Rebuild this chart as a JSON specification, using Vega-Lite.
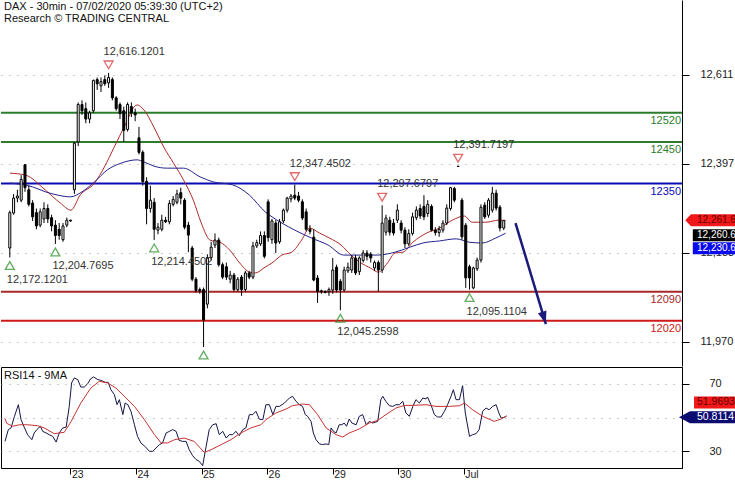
{
"$schema": "https://vega.github.io/schema/vega-lite/v6.json",
"padding": 0,
"spacing": 0,
"background": "white",
"config": {"view": {"stroke": null}, "font": "Liberation Sans", "axis": {"labelFont": "Liberation Sans", "labelFontSize": 11, "labelColor": "#222"}},
"datasets": {
"candles": [
{"i":0,"o":12195,"h":12285,"l":12172.12,"c":12280},{"i":1,"o":12279,"h":12325,"l":12275,"c":12315},{"i":2,"o":12315,"h":12335,"l":12305,"c":12320},{"i":3,"o":12310,"h":12370,"l":12305,"c":12360},{"i":4,"o":12395,"h":12397,"l":12330,"c":12340},{"i":5,"o":12335,"h":12345,"l":12295,"c":12300},{"i":6,"o":12303,"h":12310,"l":12260,"c":12270},{"i":7,"o":12280,"h":12290,"l":12240,"c":12248},{"i":8,"o":12250,"h":12290,"l":12245,"c":12282},{"i":9,"o":12265,"h":12305,"l":12255,"c":12290},{"i":10,"o":12290,"h":12300,"l":12255,"c":12265},{"i":11,"o":12268,"h":12275,"l":12235,"c":12248},{"i":12,"o":12250,"h":12262,"l":12204.77,"c":12225},{"i":13,"o":12240,"h":12255,"l":12215,"c":12225},{"i":14,"o":12215,"h":12255,"l":12210,"c":12248},{"i":15,"o":12250,"h":12268,"l":12245,"c":12262},{"i":16,"o":12260,"h":12263,"l":12258,"c":12262},
{"i":17,"o":12335,"h":12450,"l":12325,"c":12447},{"i":18,"o":12450,"h":12545,"l":12440,"c":12540},{"i":19,"o":12540,"h":12550,"l":12515,"c":12525},{"i":20,"o":12530,"h":12545,"l":12495,"c":12505},{"i":21,"o":12505,"h":12525,"l":12495,"c":12520},{"i":22,"o":12525,"h":12600,"l":12520,"c":12598},{"i":23,"o":12600,"h":12605,"l":12575,"c":12590},{"i":24,"o":12585,"h":12605,"l":12570,"c":12595},{"i":25,"o":12600,"h":12610,"l":12585,"c":12590},{"i":26,"o":12592,"h":12616.12,"l":12580,"c":12605},{"i":27,"o":12600,"h":12605,"l":12550,"c":12556},{"i":28,"o":12556,"h":12560,"l":12525,"c":12530},{"i":29,"o":12540,"h":12545,"l":12505,"c":12518},{"i":30,"o":12525,"h":12535,"l":12450,"c":12478},{"i":31,"o":12480,"h":12545,"l":12475,"c":12540},{"i":32,"o":12535,"h":12545,"l":12510,"c":12520},{"i":33,"o":12520,"h":12530,"l":12500,"c":12515},
{"i":34,"o":12460,"h":12486,"l":12420,"c":12425},{"i":35,"o":12425,"h":12430,"l":12345,"c":12355},{"i":36,"o":12355,"h":12365,"l":12252,"c":12290},{"i":37,"o":12290,"h":12345,"l":12280,"c":12310},{"i":38,"o":12305,"h":12315,"l":12214.45,"c":12240},{"i":39,"o":12238,"h":12255,"l":12228,"c":12245},{"i":40,"o":12240,"h":12275,"l":12235,"c":12262},{"i":41,"o":12262,"h":12270,"l":12255,"c":12258},{"i":42,"o":12258,"h":12310,"l":12252,"c":12302},{"i":43,"o":12300,"h":12320,"l":12295,"c":12312},{"i":44,"o":12305,"h":12335,"l":12300,"c":12325},{"i":45,"o":12328,"h":12340,"l":12300,"c":12315},{"i":46,"o":12310,"h":12315,"l":12240,"c":12245},{"i":47,"o":12250,"h":12258,"l":12185,"c":12226},{"i":48,"o":12195,"h":12200,"l":12115,"c":12120},{"i":49,"o":12120,"h":12125,"l":12088,"c":12093},{"i":50,"o":12095,"h":12100,"l":12085,"c":12092},
{"i":51,"o":12095,"h":12100,"l":11957,"c":12022},{"i":52,"o":12060,"h":12180,"l":12050,"c":12172},{"i":53,"o":12172,"h":12210,"l":12165,"c":12197},{"i":54,"o":12202,"h":12230,"l":12195,"c":12214},{"i":55,"o":12214,"h":12220,"l":12150,"c":12155},{"i":56,"o":12155,"h":12160,"l":12120,"c":12125},{"i":57,"o":12150,"h":12160,"l":12118,"c":12125},{"i":58,"o":12120,"h":12140,"l":12110,"c":12130},{"i":59,"o":12130,"h":12135,"l":12090,"c":12095},{"i":60,"o":12095,"h":12125,"l":12090,"c":12120},{"i":61,"o":12125,"h":12130,"l":12080,"c":12095},{"i":62,"o":12095,"h":12140,"l":12090,"c":12135},{"i":63,"o":12135,"h":12140,"l":12120,"c":12125},{"i":64,"o":12125,"h":12210,"l":12120,"c":12200},{"i":65,"o":12200,"h":12215,"l":12195,"c":12208},{"i":66,"o":12205,"h":12235,"l":12200,"c":12225},{"i":67,"o":12225,"h":12235,"l":12170,"c":12175},
{"i":68,"o":12306,"h":12312,"l":12210,"c":12220},{"i":69,"o":12215,"h":12265,"l":12205,"c":12260},{"i":70,"o":12255,"h":12262,"l":12183,"c":12207},{"i":71,"o":12210,"h":12265,"l":12205,"c":12258},{"i":72,"o":12260,"h":12290,"l":12255,"c":12286},{"i":73,"o":12286,"h":12318,"l":12280,"c":12315},{"i":74,"o":12313,"h":12325,"l":12305,"c":12320},{"i":75,"o":12322,"h":12347.45,"l":12310,"c":12315},{"i":76,"o":12320,"h":12330,"l":12305,"c":12310},{"i":77,"o":12306,"h":12312,"l":12262,"c":12267},{"i":78,"o":12282,"h":12290,"l":12235,"c":12240},{"i":79,"o":12240,"h":12250,"l":12228,"c":12235},{"i":80,"o":12221,"h":12240,"l":12115,"c":12118},{"i":81,"o":12123,"h":12130,"l":12063,"c":12090},{"i":82,"o":12092,"h":12095,"l":12085,"c":12090},{"i":83,"o":12090,"h":12093,"l":12086,"c":12088},{"i":84,"o":12090,"h":12100,"l":12080,"c":12095},
{"i":85,"o":12094,"h":12171,"l":12085,"c":12142},{"i":86,"o":12149,"h":12155,"l":12088,"c":12094},{"i":87,"o":12115,"h":12120,"l":12045.26,"c":12094},{"i":88,"o":12094,"h":12150,"l":12090,"c":12142},{"i":89,"o":12140,"h":12160,"l":12135,"c":12149},{"i":90,"o":12142,"h":12178,"l":12135,"c":12171},{"i":91,"o":12171,"h":12178,"l":12130,"c":12135},{"i":92,"o":12138,"h":12175,"l":12130,"c":12171},{"i":93,"o":12165,"h":12190,"l":12160,"c":12183},{"i":94,"o":12183,"h":12190,"l":12165,"c":12175},{"i":95,"o":12180,"h":12185,"l":12160,"c":12171},{"i":96,"o":12147,"h":12165,"l":12140,"c":12160},{"i":97,"o":12160,"h":12165,"l":12090,"c":12142},{"i":98,"o":12142,"h":12297.68,"l":12135,"c":12255},{"i":99,"o":12233,"h":12275,"l":12225,"c":12267},{"i":100,"o":12262,"h":12270,"l":12225,"c":12233},{"i":101,"o":12255,"h":12265,"l":12225,"c":12231},
{"i":102,"o":12262,"h":12300,"l":12255,"c":12286},{"i":103,"o":12255,"h":12262,"l":12230,"c":12238},{"i":104,"o":12238,"h":12245,"l":12195,"c":12205},{"i":105,"o":12205,"h":12240,"l":12200,"c":12230},{"i":106,"o":12230,"h":12280,"l":12225,"c":12270},{"i":107,"o":12268,"h":12295,"l":12262,"c":12286},{"i":108,"o":12290,"h":12300,"l":12265,"c":12272},{"i":109,"o":12295,"h":12322,"l":12262,"c":12270},{"i":110,"o":12278,"h":12310,"l":12270,"c":12300},{"i":111,"o":12295,"h":12300,"l":12235,"c":12238},{"i":112,"o":12238,"h":12245,"l":12225,"c":12232},{"i":113,"o":12232,"h":12248,"l":12222,"c":12240},{"i":114,"o":12238,"h":12262,"l":12232,"c":12255},{"i":115,"o":12255,"h":12300,"l":12250,"c":12291},{"i":116,"o":12290,"h":12342,"l":12285,"c":12340},{"i":117,"o":12338,"h":12342,"l":12305,"c":12310},{"i":118,"o":12391,"h":12391.72,"l":12390,"c":12391.72},
{"i":119,"o":12310,"h":12315,"l":12215,"c":12222},{"i":120,"o":12250,"h":12255,"l":12099,"c":12123},{"i":121,"o":12150,"h":12155,"l":12095.11,"c":12123},{"i":122,"o":12099,"h":12150,"l":12096,"c":12147},{"i":123,"o":12145,"h":12172,"l":12140,"c":12166},{"i":124,"o":12166,"h":12300,"l":12160,"c":12293},{"i":125,"o":12298,"h":12305,"l":12265,"c":12270},{"i":126,"o":12274,"h":12315,"l":12268,"c":12310},{"i":127,"o":12286,"h":12342,"l":12280,"c":12327},{"i":128,"o":12327,"h":12335,"l":12285,"c":12291},{"i":129,"o":12293,"h":12298,"l":12235,"c":12243},{"i":130,"o":12243,"h":12262,"l":12238,"c":12260.64}
],
"ma": [
{"s":"ma1","i":0.04,"p":12375},{"s":"ma1","i":4.2,"p":12370},{"s":"ma1","i":9.4,"p":12334},{"s":"ma1","i":13.3,"p":12303},{"s":"ma1","i":16.1,"p":12286},{"s":"ma1","i":18.5,"p":12322},{"s":"ma1","i":22.3,"p":12351},{"s":"ma1","i":24.9,"p":12390},{"s":"ma1","i":27.5,"p":12438},{"s":"ma1","i":30.1,"p":12486},{"s":"ma1","i":33.5,"p":12539},{"s":"ma1","i":35.3,"p":12527},{"s":"ma1","i":37.9,"p":12486},{"s":"ma1","i":40.5,"p":12438},{"s":"ma1","i":43.1,"p":12399},{"s":"ma1","i":45.7,"p":12359},{"s":"ma1","i":48.3,"p":12310},{"s":"ma1","i":50.4,"p":12255},{"s":"ma1","i":52.7,"p":12214},{"s":"ma1","i":55.3,"p":12209},{"s":"ma1","i":57.9,"p":12190},{"s":"ma1","i":60.5,"p":12159},{"s":"ma1","i":63.1,"p":12137},{"s":"ma1","i":64.6,"p":12135},{"s":"ma1","i":67.2,"p":12149},{"s":"ma1","i":69.0,"p":12159},{"s":"ma1","i":71.6,"p":12178},{"s":"ma1","i":74.2,"p":12185},{"s":"ma1","i":76.8,"p":12214},{"s":"ma1","i":78.9,"p":12243},{"s":"ma1","i":81.5,"p":12231},{"s":"ma1","i":84.1,"p":12219},{"s":"ma1","i":87.2,"p":12202},{"s":"ma1","i":89.8,"p":12178},{"s":"ma1","i":92.4,"p":12159},{"s":"ma1","i":94.9,"p":12147},{"s":"ma1","i":97.0,"p":12137},{"s":"ma1","i":99.4,"p":12159},{"s":"ma1","i":101.4,"p":12183},{"s":"ma1","i":103.5,"p":12185},{"s":"ma1","i":106.1,"p":12209},{"s":"ma1","i":109.7,"p":12231},{"s":"ma1","i":113.1,"p":12243},{"s":"ma1","i":116.5,"p":12262},{"s":"ma1","i":119.6,"p":12272},{"s":"ma1","i":121.7,"p":12257},{"s":"ma1","i":125.3,"p":12257},{"s":"ma1","i":128.7,"p":12262},{"s":"ma1","i":130.5,"p":12261.64},
{"s":"ma2","i":0.04,"p":12351},{"s":"ma2","i":6.0,"p":12342},{"s":"ma2","i":9.4,"p":12330},{"s":"ma2","i":12.7,"p":12322},{"s":"ma2","i":15.9,"p":12318},{"s":"ma2","i":19.0,"p":12330},{"s":"ma2","i":22.3,"p":12354},{"s":"ma2","i":25.7,"p":12383},{"s":"ma2","i":29.3,"p":12399},{"s":"ma2","i":33.5,"p":12407},{"s":"ma2","i":35.3,"p":12402},{"s":"ma2","i":37.9,"p":12392},{"s":"ma2","i":41.3,"p":12387},{"s":"ma2","i":45.7,"p":12387},{"s":"ma2","i":50.1,"p":12366},{"s":"ma2","i":53.5,"p":12354},{"s":"ma2","i":58.6,"p":12347},{"s":"ma2","i":63.1,"p":12322},{"s":"ma2","i":67.2,"p":12282},{"s":"ma2","i":69.0,"p":12270},{"s":"ma2","i":71.6,"p":12255},{"s":"ma2","i":75.0,"p":12238},{"s":"ma2","i":79.4,"p":12219},{"s":"ma2","i":83.8,"p":12202},{"s":"ma2","i":87.9,"p":12178},{"s":"ma2","i":92.4,"p":12178},{"s":"ma2","i":96.8,"p":12178},{"s":"ma2","i":101.4,"p":12185},{"s":"ma2","i":105.3,"p":12197},{"s":"ma2","i":108.7,"p":12207},{"s":"ma2","i":113.1,"p":12212},{"s":"ma2","i":117.5,"p":12217},{"s":"ma2","i":120.9,"p":12209},{"s":"ma2","i":124.3,"p":12207},{"s":"ma2","i":127.9,"p":12219},{"s":"ma2","i":130.5,"p":12230.64}
],
"levels": [{"level":12520},{"level":12450},{"level":12350},{"level":12090},{"level":12020}],
"pivots": [
{"t":"high","i":26,"p":12616.1201},{"t":"high","i":75,"p":12347.4502},{"t":"high","i":98,"p":12297.6797},{"t":"high","i":118,"p":12391.7197},
{"t":"low","i":0,"p":12172.1201},{"t":"low","i":12,"p":12204.7695},{"t":"low","i":38,"p":12214.4502},{"t":"low","i":51,"p":11957.0},{"t":"low","i":87,"p":12045.2598},{"t":"low","i":121,"p":12095.1104}
],
"arrow": [{"k":"start","i":133.1,"p":12255},{"k":"end","i":141.1,"p":12012}],
"tags": [{"tag":"ma1","v":12261.6406},{"tag":"close","v":12260.64},{"tag":"ma2","v":12230.6406}],
"rsi": [
{"s":"rsi","i":0.04,"v":35.8},{"s":"rsi","i":0.9,"v":42.8},{"s":"rsi","i":1.6,"v":43.8},{"s":"rsi","i":2.5,"v":50.7},{"s":"rsi","i":3.5,"v":57.6},{"s":"rsi","i":4.2,"v":48.7},{"s":"rsi","i":5.1,"v":43.8},{"s":"rsi","i":5.9,"v":39.8},{"s":"rsi","i":7.0,"v":36.8},{"s":"rsi","i":7.6,"v":40.8},{"s":"rsi","i":8.3,"v":42.8},{"s":"rsi","i":9.2,"v":44.8},{"s":"rsi","i":9.8,"v":41.8},{"s":"rsi","i":10.7,"v":40.8},{"s":"rsi","i":11.5,"v":39.8},{"s":"rsi","i":12.4,"v":38.8},{"s":"rsi","i":13.3,"v":35.4},{"s":"rsi","i":14.1,"v":40.8},{"s":"rsi","i":15.0,"v":43.8},{"s":"rsi","i":15.9,"v":44.3},{"s":"rsi","i":16.7,"v":56.6},{"s":"rsi","i":17.3,"v":70.5},{"s":"rsi","i":18.0,"v":73.5},{"s":"rsi","i":18.9,"v":72.5},{"s":"rsi","i":19.7,"v":68.1},{"s":"rsi","i":20.6,"v":68.1},{"s":"rsi","i":21.5,"v":70.1},{"s":"rsi","i":22.2,"v":72.9},{"s":"rsi","i":23.0,"v":74.1},{"s":"rsi","i":24.1,"v":72.5},{"s":"rsi","i":24.9,"v":72.1},{"s":"rsi","i":26.0,"v":70.9},{"s":"rsi","i":26.8,"v":70.9},{"s":"rsi","i":27.5,"v":66.5},{"s":"rsi","i":28.4,"v":63.6},{"s":"rsi","i":29.1,"v":57.6},{"s":"rsi","i":29.7,"v":60.6},{"s":"rsi","i":30.6,"v":51.7},{"s":"rsi","i":31.2,"v":58.6},{"s":"rsi","i":31.9,"v":57.6},{"s":"rsi","i":32.7,"v":53.7},{"s":"rsi","i":33.6,"v":45.7},{"s":"rsi","i":34.4,"v":38.8},{"s":"rsi","i":35.3,"v":34.8},{"s":"rsi","i":36.3,"v":32.9},{"s":"rsi","i":37.5,"v":29.9},{"s":"rsi","i":38.3,"v":29.9},{"s":"rsi","i":39.2,"v":31.9},{"s":"rsi","i":40.1,"v":33.9},{"s":"rsi","i":40.9,"v":34.9},{"s":"rsi","i":41.8,"v":40.8},{"s":"rsi","i":42.7,"v":41.8},{"s":"rsi","i":43.5,"v":42.8},{"s":"rsi","i":44.4,"v":41.8},{"s":"rsi","i":45.2,"v":36.4},{"s":"rsi","i":46.1,"v":35.8},{"s":"rsi","i":47.0,"v":35.8},{"s":"rsi","i":47.8,"v":30.9},{"s":"rsi","i":48.7,"v":27.3},{"s":"rsi","i":49.6,"v":25.0},{"s":"rsi","i":50.4,"v":24.0},{"s":"rsi","i":51.3,"v":21.4},{"s":"rsi","i":52.2,"v":32.9},{"s":"rsi","i":53.0,"v":42.8},{"s":"rsi","i":53.9,"v":45.7},{"s":"rsi","i":54.8,"v":46.3},{"s":"rsi","i":55.6,"v":39.8},{"s":"rsi","i":56.5,"v":41.8},{"s":"rsi","i":57.4,"v":37.8},{"s":"rsi","i":58.2,"v":39.8},{"s":"rsi","i":59.1,"v":39.8},{"s":"rsi","i":59.9,"v":41.8},{"s":"rsi","i":60.8,"v":39.2},{"s":"rsi","i":61.7,"v":42.8},{"s":"rsi","i":62.5,"v":43.8},{"s":"rsi","i":63.4,"v":51.7},{"s":"rsi","i":64.3,"v":51.7},{"s":"rsi","i":65.1,"v":53.7},{"s":"rsi","i":66.0,"v":49.0},{"s":"rsi","i":66.9,"v":48.7},{"s":"rsi","i":67.7,"v":57.6},{"s":"rsi","i":68.6,"v":57.6},{"s":"rsi","i":69.5,"v":51.7},{"s":"rsi","i":70.3,"v":56.6},{"s":"rsi","i":71.2,"v":56.6},{"s":"rsi","i":72.5,"v":58.6},{"s":"rsi","i":73.8,"v":61.6},{"s":"rsi","i":74.6,"v":62.6},{"s":"rsi","i":75.5,"v":59.6},{"s":"rsi","i":76.4,"v":57.6},{"s":"rsi","i":77.2,"v":56.6},{"s":"rsi","i":77.9,"v":51.7},{"s":"rsi","i":78.5,"v":50.7},{"s":"rsi","i":79.4,"v":47.7},{"s":"rsi","i":80.0,"v":40.8},{"s":"rsi","i":80.7,"v":36.8},{"s":"rsi","i":81.6,"v":34.3},{"s":"rsi","i":82.4,"v":33.9},{"s":"rsi","i":83.3,"v":34.3},{"s":"rsi","i":84.0,"v":33.9},{"s":"rsi","i":84.6,"v":43.8},{"s":"rsi","i":85.2,"v":41.8},{"s":"rsi","i":85.9,"v":40.8},{"s":"rsi","i":86.7,"v":45.7},{"s":"rsi","i":87.4,"v":45.7},{"s":"rsi","i":88.0,"v":46.7},{"s":"rsi","i":88.6,"v":44.8},{"s":"rsi","i":89.3,"v":49.1},{"s":"rsi","i":90.0,"v":46.7},{"s":"rsi","i":91.1,"v":45.7},{"s":"rsi","i":91.9,"v":50.7},{"s":"rsi","i":92.8,"v":51.7},{"s":"rsi","i":93.7,"v":45.7},{"s":"rsi","i":94.5,"v":47.7},{"s":"rsi","i":95.4,"v":46.7},{"s":"rsi","i":96.7,"v":47.7},{"s":"rsi","i":97.5,"v":60.6},{"s":"rsi","i":98.0,"v":62.6},{"s":"rsi","i":98.8,"v":59.6},{"s":"rsi","i":99.7,"v":57.0},{"s":"rsi","i":100.6,"v":56.6},{"s":"rsi","i":101.4,"v":57.6},{"s":"rsi","i":102.3,"v":57.6},{"s":"rsi","i":103.2,"v":59.6},{"s":"rsi","i":104.0,"v":52.7},{"s":"rsi","i":104.9,"v":50.7},{"s":"rsi","i":105.8,"v":56.6},{"s":"rsi","i":106.6,"v":60.6},{"s":"rsi","i":107.5,"v":58.6},{"s":"rsi","i":108.4,"v":61.6},{"s":"rsi","i":109.2,"v":61.0},{"s":"rsi","i":109.6,"v":62.2},{"s":"rsi","i":110.5,"v":57.6},{"s":"rsi","i":111.4,"v":51.7},{"s":"rsi","i":112.2,"v":50.3},{"s":"rsi","i":113.1,"v":50.3},{"s":"rsi","i":114.0,"v":53.7},{"s":"rsi","i":114.8,"v":57.6},{"s":"rsi","i":115.7,"v":62.6},{"s":"rsi","i":116.3,"v":66.5},{"s":"rsi","i":117.0,"v":60.6},{"s":"rsi","i":117.9,"v":60.6},{"s":"rsi","i":118.7,"v":68.9},{"s":"rsi","i":119.4,"v":52.7},{"s":"rsi","i":120.5,"v":38.8},{"s":"rsi","i":121.3,"v":39.8},{"s":"rsi","i":122.2,"v":40.4},{"s":"rsi","i":123.0,"v":42.8},{"s":"rsi","i":123.9,"v":53.7},{"s":"rsi","i":124.8,"v":55.6},{"s":"rsi","i":125.6,"v":54.6},{"s":"rsi","i":126.5,"v":56.6},{"s":"rsi","i":127.4,"v":57.6},{"s":"rsi","i":128.1,"v":52.7},{"s":"rsi","i":128.7,"v":49.7},{"s":"rsi","i":129.5,"v":50.1},{"s":"rsi","i":130.1,"v":50.81},
{"s":"ma","i":0.0,"v":49.5},{"s":"ma","i":0.5,"v":46.5},{"s":"ma","i":2.0,"v":44.8},{"s":"ma","i":3.8,"v":45.7},{"s":"ma","i":5.9,"v":45.7},{"s":"ma","i":8.5,"v":45.1},{"s":"ma","i":10.2,"v":43.8},{"s":"ma","i":12.8,"v":40.4},{"s":"ma","i":15.4,"v":41.2},{"s":"ma","i":17.2,"v":47.7},{"s":"ma","i":19.7,"v":58.6},{"s":"ma","i":22.3,"v":67.5},{"s":"ma","i":24.5,"v":71.5},{"s":"ma","i":26.7,"v":70.5},{"s":"ma","i":28.8,"v":67.5},{"s":"ma","i":31.0,"v":62.6},{"s":"ma","i":33.6,"v":56.6},{"s":"ma","i":36.2,"v":48.7},{"s":"ma","i":38.8,"v":39.8},{"s":"ma","i":40.5,"v":34.9},{"s":"ma","i":42.2,"v":34.9},{"s":"ma","i":44.0,"v":36.8},{"s":"ma","i":46.5,"v":37.8},{"s":"ma","i":49.1,"v":35.8},{"s":"ma","i":50.9,"v":31.3},{"s":"ma","i":51.7,"v":29.3},{"s":"ma","i":53.5,"v":30.9},{"s":"ma","i":56.1,"v":33.9},{"s":"ma","i":58.6,"v":36.8},{"s":"ma","i":61.2,"v":40.8},{"s":"ma","i":63.8,"v":43.8},{"s":"ma","i":66.4,"v":45.7},{"s":"ma","i":67.7,"v":48.7},{"s":"ma","i":70.3,"v":52.7},{"s":"ma","i":72.9,"v":55.0},{"s":"ma","i":74.6,"v":57.0},{"s":"ma","i":77.2,"v":58.0},{"s":"ma","i":79.0,"v":57.6},{"s":"ma","i":81.1,"v":51.7},{"s":"ma","i":83.3,"v":43.8},{"s":"ma","i":85.9,"v":39.8},{"s":"ma","i":87.6,"v":38.4},{"s":"ma","i":89.3,"v":40.8},{"s":"ma","i":91.9,"v":43.2},{"s":"ma","i":94.5,"v":46.7},{"s":"ma","i":96.7,"v":48.3},{"s":"ma","i":98.8,"v":51.7},{"s":"ma","i":101.4,"v":55.6},{"s":"ma","i":103.6,"v":57.2},{"s":"ma","i":105.8,"v":57.2},{"s":"ma","i":109.2,"v":57.6},{"s":"ma","i":111.8,"v":56.6},{"s":"ma","i":115.3,"v":56.6},{"s":"ma","i":117.9,"v":57.0},{"s":"ma","i":119.2,"v":58.6},{"s":"ma","i":121.3,"v":54.6},{"s":"ma","i":123.9,"v":50.7},{"s":"ma","i":126.9,"v":47.7},{"s":"ma","i":128.7,"v":49.1},{"s":"ma","i":130.1,"v":51.0}
],
"rsitags": [{"tag":"ma","v":51.9693},{"tag":"rsi","v":50.8114}]
},
"vconcat": [
{
"width": 681, "height": 366,
"title": {"text": ["DAX - 30min - 07/02/2020 05:39:30 (UTC+2)", "Research © TRADING CENTRAL"], "anchor": "start", "frame": "group", "offset": -24, "dx": 3, "fontSize": 11, "fontWeight": "normal", "font": "Liberation Sans", "color": "#111", "lineHeight": 12},
"resolve": {"scale": {"color": "independent"}},
"layer": [
{"data": {"name": "levels"}, "mark": {"type": "rule", "strokeWidth": 2},
 "encoding": {
  "y": {"field": "level", "type": "quantitative", "title": null, "scale": {"domain": [11911.3, 12791.3], "nice": false, "zero": false},
        "axis": {"orient": "right", "values": [11970, 12183, 12397, 12611], "format": ",d", "grid": true, "gridDash": [1, 7], "gridColor": "#999", "tickSize": 7, "labelPadding": 11, "domainColor": "#000", "tickColor": "#000", "labelFontSize": 11, "labelColor": "#222"}},
  "color": {"field": "level", "type": "nominal", "scale": {"domain": [12520, 12450, 12350, 12090, 12020], "range": ["#2b7d2b", "#2b7d2b", "#0a0ab4", "#a82828", "#d01818"]}, "legend": null}}},
{"data": {"name": "levels"}, "mark": {"type": "text", "align": "right", "baseline": "middle", "dx": -1, "dy": 8, "fontSize": 11, "font": "Liberation Sans"},
 "encoding": {
  "x": {"value": "width"},
  "y": {"field": "level", "type": "quantitative", "title": null, "scale": {"domain": [11911.3, 12791.3], "nice": false, "zero": false}},
  "text": {"field": "level", "type": "quantitative", "format": "d"},
  "color": {"field": "level", "type": "nominal", "scale": {"domain": [12520, 12450, 12350, 12090, 12020], "range": ["#2b7d2b", "#2b7d2b", "#0a0ab4", "#a82828", "#d01818"]}, "legend": null}}},
{"data": {"name": "ma"}, "mark": {"type": "line", "strokeWidth": 1, "interpolate": "monotone"},
 "encoding": {
  "x": {"field": "i", "type": "quantitative", "axis": null, "scale": {"domain": [-1, 175.6], "nice": false, "zero": false}},
  "y": {"field": "p", "type": "quantitative", "title": null, "scale": {"domain": [11911.3, 12791.3], "nice": false, "zero": false}},
  "color": {"field": "s", "type": "nominal", "scale": {"domain": ["ma1", "ma2"], "range": ["#b02a2a", "#23238f"]}, "legend": null}}},
{"data": {"name": "candles"}, "mark": {"type": "rule", "color": "#000", "strokeWidth": 1},
 "encoding": {
  "x": {"field": "i", "type": "quantitative", "axis": null, "scale": {"domain": [-1, 175.6], "nice": false, "zero": false}},
  "y": {"field": "l", "type": "quantitative", "title": null, "scale": {"domain": [11911.3, 12791.3], "nice": false, "zero": false}},
  "y2": {"field": "h"}}},
{"data": {"name": "candles"}, "mark": {"type": "bar", "width": 2, "stroke": "#000", "strokeWidth": 1},
 "encoding": {
  "x": {"field": "i", "type": "quantitative", "axis": null, "scale": {"domain": [-1, 175.6], "nice": false, "zero": false}},
  "y": {"field": "o", "type": "quantitative", "title": null, "scale": {"domain": [11911.3, 12791.3], "nice": false, "zero": false}},
  "y2": {"field": "c"},
  "fill": {"condition": {"test": "datum.c >= datum.o", "value": "#ffffff"}, "value": "#000000"}}},
{"data": {"name": "pivots"}, "transform": [{"filter": "datum.t == 'high'"}],
 "mark": {"type": "point", "shape": "triangle-down", "filled": false, "size": 80, "strokeWidth": 1.3, "color": "#d42a2a", "yOffset": -8},
 "encoding": {
  "x": {"field": "i", "type": "quantitative", "axis": null, "scale": {"domain": [-1, 175.6], "nice": false, "zero": false}},
  "y": {"field": "p", "type": "quantitative", "title": null, "scale": {"domain": [11911.3, 12791.3], "nice": false, "zero": false}}}},
{"data": {"name": "pivots"}, "transform": [{"filter": "datum.t == 'low'"}],
 "mark": {"type": "point", "shape": "triangle-up", "filled": false, "size": 80, "strokeWidth": 1.3, "color": "#1e8c1e", "yOffset": 8},
 "encoding": {
  "x": {"field": "i", "type": "quantitative", "axis": null, "scale": {"domain": [-1, 175.6], "nice": false, "zero": false}},
  "y": {"field": "p", "type": "quantitative", "title": null, "scale": {"domain": [11911.3, 12791.3], "nice": false, "zero": false}}}},
{"data": {"name": "pivots"}, "transform": [{"filter": "datum.t == 'high'"}],
 "mark": {"type": "text", "align": "left", "baseline": "middle", "dx": -5, "yOffset": -21, "fontSize": 11, "font": "Liberation Sans", "color": "#333"},
 "encoding": {
  "x": {"field": "i", "type": "quantitative", "axis": null, "scale": {"domain": [-1, 175.6], "nice": false, "zero": false}},
  "y": {"field": "p", "type": "quantitative", "title": null, "scale": {"domain": [11911.3, 12791.3], "nice": false, "zero": false}},
  "text": {"field": "p", "type": "quantitative", "format": ",.4f"}}},
{"data": {"name": "pivots"}, "transform": [{"filter": "datum.t == 'low' && datum.p > 11960"}],
 "mark": {"type": "text", "align": "left", "baseline": "middle", "dx": -3, "yOffset": 22, "fontSize": 11, "font": "Liberation Sans", "color": "#333"},
 "encoding": {
  "x": {"field": "i", "type": "quantitative", "axis": null, "scale": {"domain": [-1, 175.6], "nice": false, "zero": false}},
  "y": {"field": "p", "type": "quantitative", "title": null, "scale": {"domain": [11911.3, 12791.3], "nice": false, "zero": false}},
  "text": {"field": "p", "type": "quantitative", "format": ",.4f"}}},
{"data": {"name": "arrow"}, "mark": {"type": "line", "strokeWidth": 2.5, "color": "#1a1a7a"},
 "encoding": {
  "x": {"field": "i", "type": "quantitative", "axis": null, "scale": {"domain": [-1, 175.6], "nice": false, "zero": false}},
  "y": {"field": "p", "type": "quantitative", "title": null, "scale": {"domain": [11911.3, 12791.3], "nice": false, "zero": false}}}},
{"data": {"name": "arrow"}, "transform": [{"filter": "datum.k == 'end'"}],
 "mark": {"type": "point", "shape": "M0,0L-1.1,-3.2L1.1,-3.2Z", "size": 64, "filled": true, "opacity": 1, "color": "#1a1a7a", "angle": -17},
 "encoding": {
  "x": {"field": "i", "type": "quantitative", "axis": null, "scale": {"domain": [-1, 175.6], "nice": false, "zero": false}},
  "y": {"field": "p", "type": "quantitative", "title": null, "scale": {"domain": [11911.3, 12791.3], "nice": false, "zero": false}}}},
{"data": {"name": "tags"}, "transform": [{"filter": "datum.tag == 'ma1'"}],
 "mark": {"type": "point", "shape": "M0.55,0L1.5,-1L8.83,-1L8.83,1L1.5,1Z", "size": 144, "filled": true, "opacity": 1, "color": "#f01818", "strokeWidth": 0},
 "encoding": {"x": {"value": "width"}, "y": {"field": "v", "type": "quantitative", "title": null, "scale": {"domain": [11911.3, 12791.3], "nice": false, "zero": false}}}},
{"data": {"name": "tags"}, "transform": [{"filter": "datum.tag == 'ma1'"}],
 "mark": {"type": "text", "align": "left", "baseline": "middle", "dx": 15, "fontSize": 10, "font": "Liberation Sans", "color": "#6a0000", "limit": 40, "ellipsis": "\u200b"},
 "encoding": {"x": {"value": "width"}, "y": {"field": "v", "type": "quantitative", "title": null, "scale": {"domain": [11911.3, 12791.3], "nice": false, "zero": false}}, "text": {"field": "v", "type": "quantitative", "format": ",.4f"}}},
{"data": {"name": "tags"}, "transform": [{"filter": "datum.tag == 'close'"}],
 "mark": {"type": "point", "shape": "M1.8,-1L8.83,-1L8.83,1L1.8,1Z", "size": 144, "filled": true, "opacity": 1, "color": "#000", "strokeWidth": 0, "yOffset": 14.5},
 "encoding": {"x": {"value": "width"}, "y": {"field": "v", "type": "quantitative", "title": null, "scale": {"domain": [11911.3, 12791.3], "nice": false, "zero": false}}}},
{"data": {"name": "tags"}, "transform": [{"filter": "datum.tag == 'close'"}],
 "mark": {"type": "text", "align": "left", "baseline": "middle", "dx": 15, "yOffset": 14.5, "fontSize": 10, "font": "Liberation Sans", "color": "#fff", "limit": 40, "ellipsis": "\u200b"},
 "encoding": {"x": {"value": "width"}, "y": {"field": "v", "type": "quantitative", "title": null, "scale": {"domain": [11911.3, 12791.3], "nice": false, "zero": false}}, "text": {"field": "v", "type": "quantitative", "format": ",.4f"}}},
{"data": {"name": "tags"}, "transform": [{"filter": "datum.tag == 'ma2'"}],
 "mark": {"type": "point", "shape": "M1.8,-1L8.83,-1L8.83,1L1.8,1Z", "size": 144, "filled": true, "opacity": 1, "color": "#0a0af0", "strokeWidth": 0, "yOffset": 15},
 "encoding": {"x": {"value": "width"}, "y": {"field": "v", "type": "quantitative", "title": null, "scale": {"domain": [11911.3, 12791.3], "nice": false, "zero": false}}}},
{"data": {"name": "tags"}, "transform": [{"filter": "datum.tag == 'ma2'"}],
 "mark": {"type": "text", "align": "left", "baseline": "middle", "dx": 15, "yOffset": 15, "fontSize": 10, "font": "Liberation Sans", "color": "#fff", "limit": 40, "ellipsis": "\u200b"},
 "encoding": {"x": {"value": "width"}, "y": {"field": "v", "type": "quantitative", "title": null, "scale": {"domain": [11911.3, 12791.3], "nice": false, "zero": false}}, "text": {"field": "v", "type": "quantitative", "format": ",.4f"}}}
]
},
{
"width": 681, "height": 101,
"view": {"stroke": "#000"},
"title": {"text": "RSI14 - 9MA", "anchor": "start", "frame": "group", "offset": -14, "dx": 3, "fontSize": 11, "fontWeight": "normal", "font": "Liberation Sans", "color": "#111"},
"resolve": {"scale": {"color": "independent"}},
"layer": [
{"data": {"name": "rsi"}, "mark": {"type": "line", "strokeWidth": 1},
 "encoding": {
  "x": {"field": "i", "type": "quantitative", "title": null, "scale": {"domain": [-1, 175.6], "nice": false, "zero": false},
        "axis": {"orient": "bottom", "values": [17, 34, 51, 68, 85, 102, 119], "labelExpr": "datum.value == 17 ? '23' : datum.value == 34 ? '24' : datum.value == 51 ? '25' : datum.value == 68 ? '26' : datum.value == 85 ? '29' : datum.value == 102 ? '30' : 'Jul'", "labelAlign": "left", "labelOffset": 1, "tickSize": 6, "labelPadding": -5, "grid": false, "domainColor": "#000", "tickColor": "#000", "labelFontSize": 10.5, "labelColor": "#222", "labelFlush": false}},
  "y": {"field": "v", "type": "quantitative", "title": null, "scale": {"domain": [20, 80], "nice": false, "zero": false},
        "axis": {"orient": "right", "values": [30, 50, 70], "labelExpr": "datum.value == 50 ? '' : datum.label", "grid": true, "gridDash": [1, 7], "gridColor": "#999", "tickSize": 7, "labelPadding": 20, "domainColor": "#000", "tickColor": "#000", "labelFontSize": 11, "labelColor": "#222"}},
  "color": {"field": "s", "type": "nominal", "scale": {"domain": ["rsi", "ma"], "range": ["#15154a", "#c83232"]}, "legend": null}}},
{"data": {"name": "rsitags"}, "transform": [{"filter": "datum.tag == 'ma'"}],
 "mark": {"type": "point", "shape": "M2,-1L8.83,-1L8.83,1L2,1Z", "size": 144, "filled": true, "opacity": 1, "color": "#f01818", "strokeWidth": 0, "yOffset": -11.7},
 "encoding": {"x": {"value": "width"}, "y": {"field": "v", "type": "quantitative", "title": null, "scale": {"domain": [20, 80], "nice": false, "zero": false}}}},
{"data": {"name": "rsitags"}, "transform": [{"filter": "datum.tag == 'ma'"}],
 "mark": {"type": "text", "align": "left", "baseline": "middle", "dx": 15, "yOffset": -11.7, "fontSize": 10.5, "font": "Liberation Sans", "color": "#6a0000", "limit": 40, "ellipsis": "\u200b"},
 "encoding": {"x": {"value": "width"}, "y": {"field": "v", "type": "quantitative", "title": null, "scale": {"domain": [20, 80], "nice": false, "zero": false}}, "text": {"field": "v", "type": "quantitative", "format": ".4f"}}},
{"data": {"name": "rsitags"}, "transform": [{"filter": "datum.tag == 'rsi'"}],
 "mark": {"type": "point", "shape": "M-0.5,0L1.33,-1L8.83,-1L8.83,1L1.33,1Z", "size": 144, "filled": true, "opacity": 1, "color": "#0c0c70", "strokeWidth": 0, "yOffset": 1},
 "encoding": {"x": {"value": "width"}, "y": {"field": "v", "type": "quantitative", "title": null, "scale": {"domain": [20, 80], "nice": false, "zero": false}}}},
{"data": {"name": "rsitags"}, "transform": [{"filter": "datum.tag == 'rsi'"}],
 "mark": {"type": "text", "align": "left", "baseline": "middle", "dx": 15, "yOffset": 1, "fontSize": 10.5, "font": "Liberation Sans", "color": "#fff", "limit": 40, "ellipsis": "\u200b"},
 "encoding": {"x": {"value": "width"}, "y": {"field": "v", "type": "quantitative", "title": null, "scale": {"domain": [20, 80], "nice": false, "zero": false}}, "text": {"field": "v", "type": "quantitative", "format": ".4f"}}}
]
}
]
}
